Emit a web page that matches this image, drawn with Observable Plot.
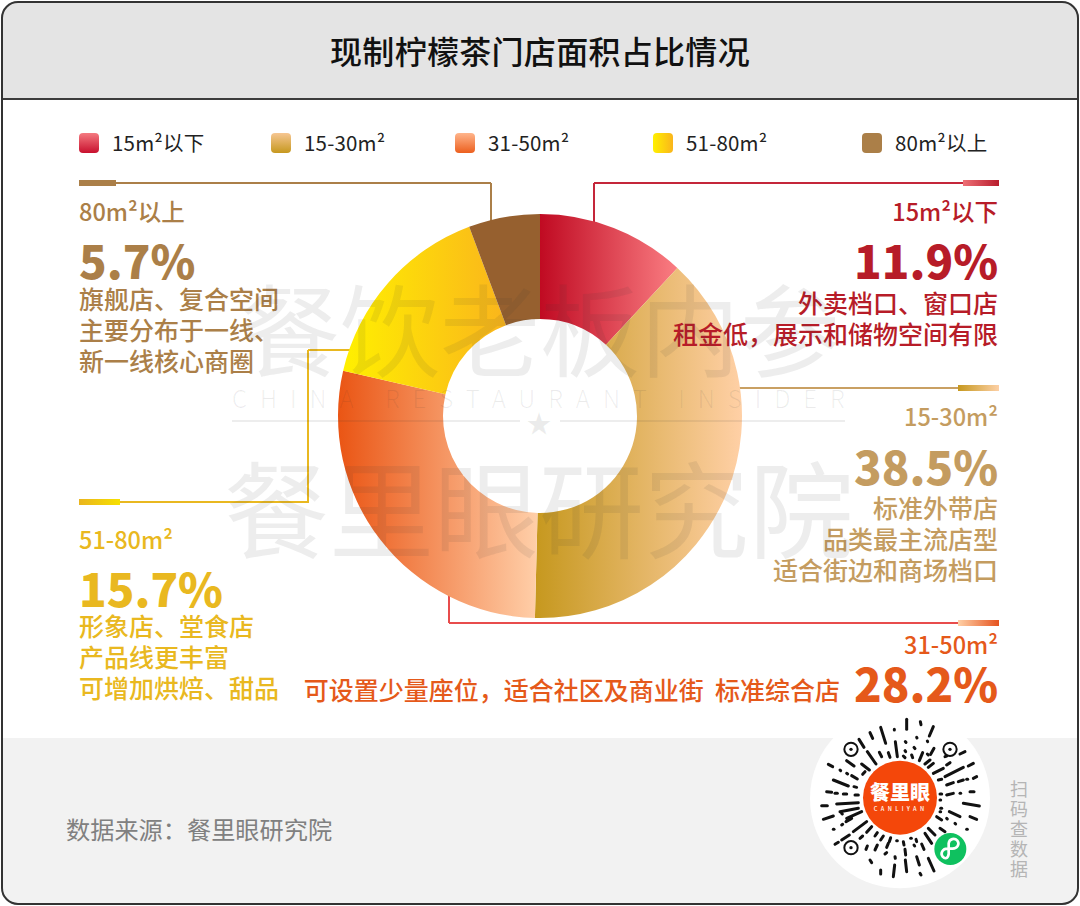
<!DOCTYPE html>
<html lang="zh">
<head>
<meta charset="utf-8">
<script src="https://cdn.jsdelivr.net/npm/d3@7"></script>
<script src="https://cdn.jsdelivr.net/npm/@observablehq/plot@0.6"></script>
<style>
html,body{margin:0;padding:0;background:#fff;}
#page{position:relative;width:1080px;height:906px;overflow:hidden;font-family:"Noto Sans CJK SC","Noto Sans",sans-serif;background:#fff;}
#page>*{position:absolute;}
#header{left:0;top:0;width:1080px;background:#e4e4e4;border-bottom:2px solid #3c3c3c;box-sizing:border-box;height:100px;}
#footer{left:0;top:738px;width:1080px;height:168px;background:#f2f2f2;}
#frame{left:1px;top:1px;width:1078px;height:904px;box-sizing:border-box;border:2px solid #333;border-radius:17px;box-shadow:0 0 0 20px #fff;z-index:9;pointer-events:none;}
#title{left:0;top:25px;width:1080px;text-align:center;font-size:32px;line-height:50px;font-weight:500;color:#111;letter-spacing:.3px;margin:0;}
#plotbox{left:338px;top:214px;width:404px;height:404px;z-index:3;}
.sw{width:20px;height:20px;border-radius:4px;top:133px;}
.lg{top:126px;font-size:20.5px;line-height:32px;color:#222;white-space:nowrap;letter-spacing:.2px;}
.t{white-space:nowrap;z-index:4;}
.lab{font-size:23.5px;line-height:26px;font-weight:500;}
.pct{font-size:45.5px;line-height:42px;font-weight:900;}
.desc{font-size:25px;line-height:29px;font-weight:500;}
.ln{z-index:2;}
.bar{z-index:2;height:6px;}
.wm{z-index:5;color:rgba(50,50,50,.09);white-space:nowrap;pointer-events:none;}
#src{left:66px;top:811px;font-size:24.2px;line-height:36px;color:#808080;z-index:4;}
#scan{left:1008px;top:778px;width:22px;font-size:18px;line-height:20px;color:#b5b5b5;text-align:center;z-index:4;}
#qr{left:790px;top:710px;width:260px;height:190px;overflow:visible;z-index:4;}
</style>
</head>
<body>
<div id="page">
  <div id="header"></div>
  <div id="footer"></div>
  <h1 id="title"></h1>
  <div id="plotbox"></div>
  <div id="src"></div>
  <div id="scan"></div>
  <div id="frame"></div>
</div>
<script>
// ---- chart values ----
const chartTitle = "现制柠檬茶门店面积占比情况";
const sourceNote = "数据来源：餐里眼研究院";
const scanNote = ["扫","码","查","数","据"];
const categories = ["15m²以下","15-30m²","31-50m²","51-80m²","80m²以上"];
const shares = [11.9,38.5,28.2,15.7,5.7];
const notes = [
  ["外卖档口、窗口店","租金低，展示和储物空间有限"],
  ["标准外带店","品类最主流店型","适合街边和商场档口"],
  ["可设置少量座位，适合社区及商业街  标准综合店"],
  ["形象店、堂食店","产品线更丰富","可增加烘焙、甜品"],
  ["旗舰店、复合空间","主要分布于一线、","新一线核心商圈"]
];
// ---- styles ----
const ringStops = [["#c00a22","#fa7d82"],["#c6981e","#ffd0a6"],["#ea5514","#ffcfa9"],["#fff000","#fab51c"],["#96602f","#96602f"]];
const swatchCss = ["linear-gradient(0deg,#c8102e,#f47a80)","linear-gradient(0deg,#c6981e,#f6c692)","linear-gradient(0deg,#ec5f1e,#ffb58c)","linear-gradient(90deg,#fff000,#fab51c)","#ab7f48"];
const legendLeft = [79,271,455,653,862], legendText = [112,304,488,686,895];
const inkColor = ["#b71c28","#c49c60","#e5591a","#e9b820","#ab7f48"];

const page = document.getElementById("page");
document.getElementById("title").textContent = chartTitle;
document.getElementById("src").textContent = sourceNote;
document.getElementById("scan").innerHTML = scanNote.map(c=>`<div>${c}</div>`).join("");

function el(cls, css, text){
  const d = document.createElement("div");
  d.className = cls; d.style.cssText = css;
  if (text != null) d.textContent = text;
  page.appendChild(d); return d;
}
categories.forEach((c,i)=>{
  el("sw",`left:${legendLeft[i]}px;background:${swatchCss[i]}`);
  el("lg",`left:${legendText[i]}px`,c);
});

// leader lines (behind the ring)
function h(x1,x2,y,c){el("ln",`left:${x1}px;top:${y-1}px;width:${x2-x1}px;height:2px;background:${c}`);}
function v(x,y1,y2,c){el("ln",`left:${x-1}px;top:${y1}px;width:2px;height:${y2-y1}px;background:${c}`);}
function bar(x,w,y,bg){el("bar",`left:${x}px;top:${y-3}px;width:${w}px;background:${bg}`);}
h(594,964,183,"#c4263a"); v(594,183,225,"#c4263a"); bar(963,36,183,"linear-gradient(90deg,#ee7076,#b81c2c)");
h(735,960,388,"#c9a063"); bar(958,41,388,"linear-gradient(90deg,#c6981e,#fdd0a6)");
h(449,960,623,"#e84c4c"); v(449,590,623,"#e84c4c"); bar(958,41,623,"linear-gradient(90deg,#ffd0a6,#e5531f)");
h(308,380,350,"#e9b820"); v(308,350,503,"#e9b820"); h(120,308,502,"#e9b820"); bar(79,41,502,"linear-gradient(90deg,#eab51e,#f6e000)");
h(110,491,183,"#ab7f48"); v(491,183,225,"#ab7f48"); bar(79,37,183,"#ab7f48");

// callouts
const fmt = v => v.toFixed(1)+"%";
function callout(i, opt){
  const side = opt.right ? `right:${1080-998}px;text-align:right` : `left:${opt.x}px`;
  const col = `color:${inkColor[i]}`;
  el("t lab",`${side};top:${opt.lab-14}px;${col}`,categories[i]);
  el("t pct",`${side};top:${opt.pct-22}px;${col}`,fmt(shares[i]));
  notes[i].forEach((n,k)=> {
    const d = el("t desc",`${opt.descSide||side};top:${opt.desc+k*30.8-16}px;${col}`,n);
    d.style.whiteSpace = "pre";
  });
}
callout(0,{right:true,lab:212,pct:260,desc:304});
callout(1,{right:true,lab:417,pct:466,desc:509});
callout(2,{right:true,lab:645,pct:683,desc:691,descSide:"right:240px;text-align:right"});
callout(3,{x:79,lab:540,pct:588,desc:627});
callout(4,{x:79,lab:212,pct:260,desc:300});

// watermark over the ring
el("wm","left:240px;top:266px;font-size:100px;line-height:120px","餐饮老板内参");
el("wm","left:224px;top:444px;font-size:105px;line-height:120px","餐里眼研究院");
el("wm","left:232px;top:381px;font-size:24px;line-height:34px;letter-spacing:13px;font-weight:300","CHINA RESTAURANT INSIDER");
el("wm","left:232px;top:420px;width:288px;height:2px;background:rgba(50,50,50,.09)");
el("wm","left:560px;top:420px;width:285px;height:2px;background:rgba(50,50,50,.09)");
el("wm","left:526px;top:408px;font-size:26px;line-height:28px","★");

// ---- ring: a stacked bar whose x scale runs round the circle ----
const rows = categories.map((category,i)=>({category,share:shares[i]}));
const outerRadius = 202, innerRadius = 97;
function ringRender(index, scales, values, dimensions){
  const ns = "http://www.w3.org/2000/svg";
  const g = d3.select(document.createElementNS(ns,"g"))
    .attr("transform",`translate(${dimensions.width/2},${dimensions.height/2})`);
  const defs = g.append("defs");
  ringStops.forEach((s,i)=>{
    const lg = defs.append("linearGradient").attr("id",`ring${i}`);
    lg.append("stop").attr("offset",0).attr("stop-color",s[0]);
    lg.append("stop").attr("offset",1).attr("stop-color",s[1]);
  });
  const arc = d3.arc().innerRadius(innerRadius).outerRadius(outerRadius);
  for (const i of index){
    g.append("path")
      .attr("d",arc({startAngle:values.x1[i],endAngle:values.x2[i]}))
      .attr("fill",values.fill[i]);
  }
  return g.node();
}
const chart = Plot.plot({
  width:404, height:404, margin:0,
  style:{background:"transparent",overflow:"visible"},
  x:{domain:[0,100],range:[0,2*Math.PI],axis:null},
  color:{domain:categories,range:categories.map((_,i)=>`url(#ring${i})`)},
  marks:[Plot.barX(rows,{x:"share",fill:"category",render:ringRender})]
});
document.getElementById("plotbox").appendChild(chart);

// ---- mini-program code (decorative) ----
const qrDashes = [[350,28,350,58],[391,35,393,44],[430,50,418,78],[240,68,248,85],[272,52,287,100],[313,58,313,60],[207,88,222,112],[316,95,322,140],[346,95,348,97],[380,82,381,84],[412,93,413,95],[232,125,258,162],[268,127,275,140],[295,128,300,142],[345,122,347,125],[372,112,375,116],[340,138,345,143],[365,135,368,143],[388,152,398,128],[412,132,415,135],[432,115,422,133],[170,152,192,168],[215,162,238,180],[218,193,225,185],[150,180,152,182],[115,163,128,170],[170,190,173,192],[130,210,175,228],[185,197,202,207],[192,230,200,232],[110,245,125,247],[135,250,142,250],[160,252,170,252],[195,255,205,255],[95,287,112,287],[140,282,205,278],[150,305,205,295],[100,328,130,318],[155,310,157,312],[170,325,215,305],[130,358,132,358],[155,345,158,343],[168,335,185,325],[190,365,230,335],[155,390,178,375],[135,403,145,397],[210,385,218,378],[230,367,245,350],[255,378,262,368],[272,390,280,378],[298,395,302,383],[320,392,322,392],[340,395,342,405],[362,385,364,385],[405,370,425,400],[378,388,380,395],[395,402,402,418],[415,355,435,375],[450,355,465,365],[495,340,497,342],[530,358,532,358],[478,305,510,320],[540,320,560,328],[520,280,568,288],[440,320,455,330],[470,325,472,327],[540,245,552,245],[470,255,490,250],[510,250,512,250],[470,225,490,218],[505,215,520,210],[550,205,560,200],[530,208,533,208],[465,200,520,172],[430,190,460,175],[470,165,480,158],[535,168,550,160],[510,132,525,125],[405,162,420,150],[415,172,430,160],[465,140,470,138],[445,210,455,208],[450,252,455,252],[450,270,452,270],[452,295,455,295],[450,305,452,305],[272,492,272,480],[310,500,314,465],[350,485,346,450],[240,450,245,458],[255,420,262,405],[228,418,232,408],[285,432,290,428],[315,440,316,445],[290,412,295,400],[345,418,347,435],[372,405,374,408],[380,440,388,465],[390,490,393,495],[415,445,432,483]];
const qrFinders = [[183,118],[480,118],[183,413]];
const qr = d3.select(page).append("svg").attr("id","qr").attr("viewBox","0 0 780 570");
qr.append("circle").attr("cx",330).attr("cy",265).attr("r",270).attr("fill","#fff");
qr.append("g").attr("stroke","#111").attr("stroke-width",9).attr("stroke-linecap","round")
  .selectAll("line").data(qrDashes).join("line")
  .attr("x1",d=>d[0]).attr("y1",d=>d[1]).attr("x2",d=>d[2]).attr("y2",d=>d[3]);
qrFinders.forEach(([x,y])=>{
  qr.append("circle").attr("cx",x).attr("cy",y).attr("r",20).attr("fill","none").attr("stroke","#111").attr("stroke-width",6);
  qr.append("circle").attr("cx",x).attr("cy",y).attr("r",5).attr("fill","#111");
});
qr.append("circle").attr("cx",330).attr("cy",263).attr("r",111).attr("fill","#f4470a");
qr.append("text").attr("x",330).attr("y",270).attr("text-anchor","middle").attr("fill","#fff")
  .attr("font-size",60).attr("font-weight",900).attr("font-family","Noto Sans CJK SC").text("餐里眼");
qr.append("text").attr("x",332).attr("y",302).attr("text-anchor","middle").attr("fill","#fff")
  .attr("font-size",17).attr("font-weight",500).attr("letter-spacing",10).attr("font-family","Noto Sans CJK SC").text("CANLIYAN");
qr.append("circle").attr("cx",481).attr("cy",417).attr("r",48).attr("fill","#0fc15f");
qr.append("path").attr("d","M458 440c-8-10 0-24 14-24h16c14 0 22-14 14-24c-8-9-24-6-26 8v32c-2 14-11 16-18 8")
  .attr("fill","none").attr("stroke","#fff").attr("stroke-width",8).attr("stroke-linecap","round");
</script>
</body>
</html>
